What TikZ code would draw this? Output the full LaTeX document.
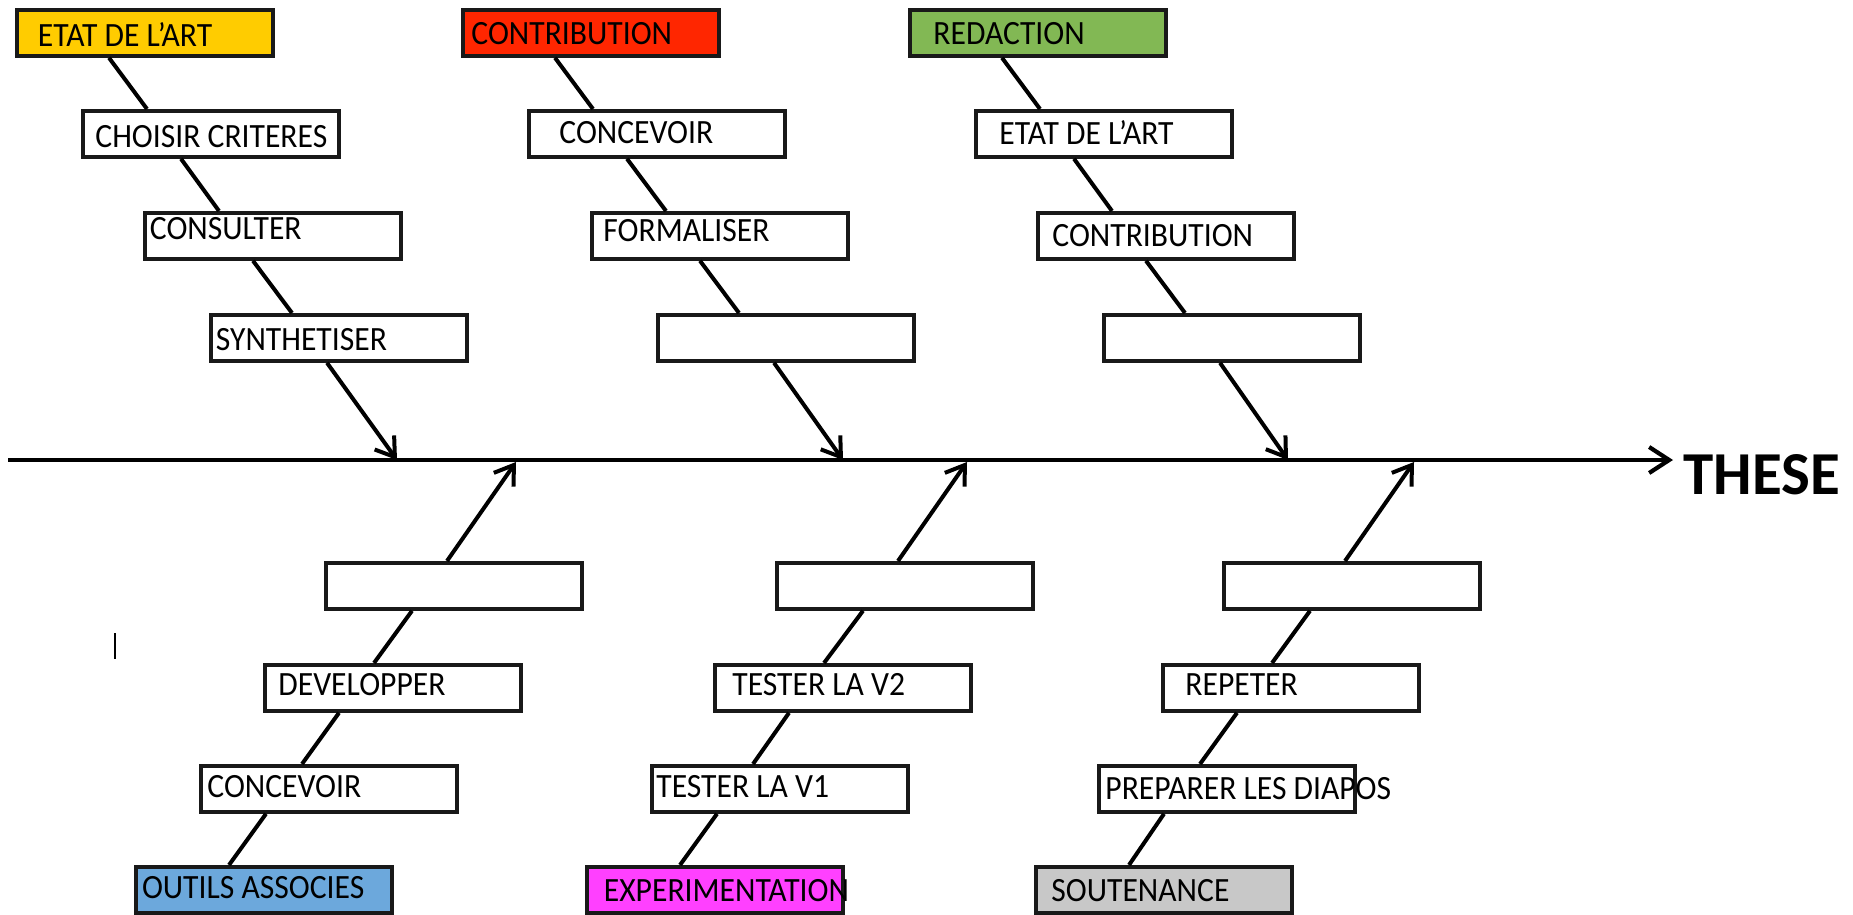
\documentclass[tikz,border=0pt]{standalone}
\usepackage{fontspec}
\setmainfont{Carlito}[FakeStretch=0.93]
\newfontfamily\thesefont{Carlito}
\usetikzlibrary{arrows.meta,calc}
\definecolor{cyellow}{RGB}{255,204,0}
\definecolor{cred}{RGB}{255,38,0}
\definecolor{cgreen}{RGB}{130,184,84}
\definecolor{cblue}{RGB}{108,168,220}
\definecolor{cmagenta}{RGB}{255,64,255}
\definecolor{cgray}{RGB}{200,200,200}
\begin{document}
\begin{tikzpicture}[x=0.5pt,y=-0.5pt,
  box/.style={draw=black!90, line width=1.9pt, minimum width=128pt, minimum height=23pt, inner sep=0pt, anchor=north west},
  lbl/.style={anchor=base west, inner sep=0pt, font=\fontsize{17}{20}\selectfont},
  link/.style={line width=2pt},
  arr/.style={line width=2pt, -{Straight Barb[length=9pt,width=12pt,line width=2pt]}}]
\useasboundingbox (0,0) rectangle (1853,915);
\fill[white] (0,0) rectangle (1853,915);

% spine
\coordinate (s0) at (8,460);
\node[anchor=base west, inner sep=0pt, font=\thesefont\bfseries\fontsize{30.5}{36}\selectfont] (these) at (1683,494) {THESE};
\draw[line width=2.1pt, -{Straight Barb[length=10pt,width=13pt,line width=2.1pt]}, shorten >=5pt] (s0) -- (s0 -| these.west);

\coordinate (t1) at (397,460);
\coordinate (t2) at (843,460);
\coordinate (t3) at (1288,460);
\coordinate (u4) at (516,462);
\coordinate (u5) at (967,462);
\coordinate (u6) at (1414,462);

% top chains
\node[box, fill=cyellow] (e1) at (15,8) {};
\node[box] (c1a) at (81,109) {};
\node[box] (c1b) at (143,211) {};
\node[box] (c1c) at (209,313) {};

\node[box, fill=cred] (e2) at (461,8) {};
\node[box] (c2a) at (527,109) {};
\node[box] (c2b) at (590,211) {};
\node[box] (c2c) at (656,313) {};

\node[box, fill=cgreen] (e3) at (908,8) {};
\node[box] (c3a) at (974,109) {};
\node[box] (c3b) at (1036,211) {};
\node[box] (c3c) at (1102,313) {};

% bottom chains
\node[box] (d4) at (324,561) {};
\node[box] (d4b) at (263,663) {};
\node[box] (d4c) at (199,764) {};
\node[box, fill=cblue] (e4) at (134,865) {};

\node[box] (d5) at (775,561) {};
\node[box] (d5b) at (713,663) {};
\node[box] (d5c) at (650,764) {};
\node[box, fill=cmagenta] (e5) at (585,865) {};

\node[box] (d6) at (1222,561) {};
\node[box] (d6b) at (1161,663) {};
\node[box] (d6c) at (1097,764) {};
\node[box, fill=cgray] (e6) at (1034,865) {};

% top connectors
\foreach \a/\b/\c/\d in {e1/c1a/c1b/c1c, e2/c2a/c2b/c2c, e3/c3a/c3b/c3c}{
  \draw[link] ($(\a.south west)+(94,0)$) -- ($(\b.north west)+(66,0)$);
  \draw[link] ($(\b.south west)+(100,0)$) -- ($(\c.north west)+(76,0)$);
  \draw[link] ($(\c.south west)+(110,0)$) -- ($(\d.north west)+(83,0)$);
}
\draw[arr] ($(c1c.south west)+(118,0)$) -- (t1);
\draw[arr] ($(c2c.south west)+(118,0)$) -- (t2);
\draw[arr] ($(c3c.south west)+(118,0)$) -- (t3);

% bottom connectors
\foreach \a/\b/\c/\d in {d4/d4b/d4c/e4, d5/d5b/d5c/e5, d6/d6b/d6c/e6}{
  \draw[link] ($(\a.south west)+(88,0)$) -- ($(\b.north west)+(111,0)$);
  \draw[link] ($(\b.south west)+(76,0)$) -- ($(\c.north west)+(103,0)$);
  \draw[link] ($(\c.south west)+(67,0)$) -- ($(\d.north west)+(95,0)$);
}
\draw[arr] ($(d4.north west)+(123,0)$) -- (u4);
\draw[arr] ($(d5.north west)+(123,0)$) -- (u5);
\draw[arr] ($(d6.north west)+(123,0)$) -- (u6);

% labels
\node[lbl] (le1) at (37.6,46.7) {ETAT DE L’ART};
\node[lbl] (le2) at (471,45) {CONTRIBUTION};
\node[lbl] (le3) at (933,45) {REDACTION};
\node[lbl] (lc1a) at (95,148) {CHOISIR CRITERES};
\node[lbl] (lc2a) at (559,144) {CONCEVOIR};
\node[lbl] (lc3a) at (999,145) {ETAT DE L’ART};
\node[lbl] (lc1b) at (149.5,239.3) {CONSULTER};
\node[lbl] (lc2b) at (603,241.7) {FORMALISER};
\node[lbl] (lc3b) at (1052,246) {CONTRIBUTION};
\node[lbl] (lc1c) at (215.5,350) {SYNTHETISER};
\node[lbl] (ld4b) at (278,695) {DEVELOPPER};
\node[lbl] (ld4c) at (207,797.7) {CONCEVOIR};
\node[lbl] (le4) at (141.6,898) {OUTILS ASSOCIES};
\node[lbl] (ld5b) at (732,695) {TESTER LA V2};
\node[lbl] (ld5c) at (656,797.7) {TESTER LA V1};
\node[lbl] (le5) at (603.5,901.7) {EXPERIMENTATION};
\node[lbl] (ld6b) at (1185,695) {REPETER};
\node[lbl] (ld6c) at (1105,799) {PREPARER LES DIAPOS};
\node[lbl] (le6) at (1051,901.7) {SOUTENANCE};

% stray cursor mark
\draw[line width=0.7pt] (115,633) -- (115,659);
\end{tikzpicture}
\end{document}
